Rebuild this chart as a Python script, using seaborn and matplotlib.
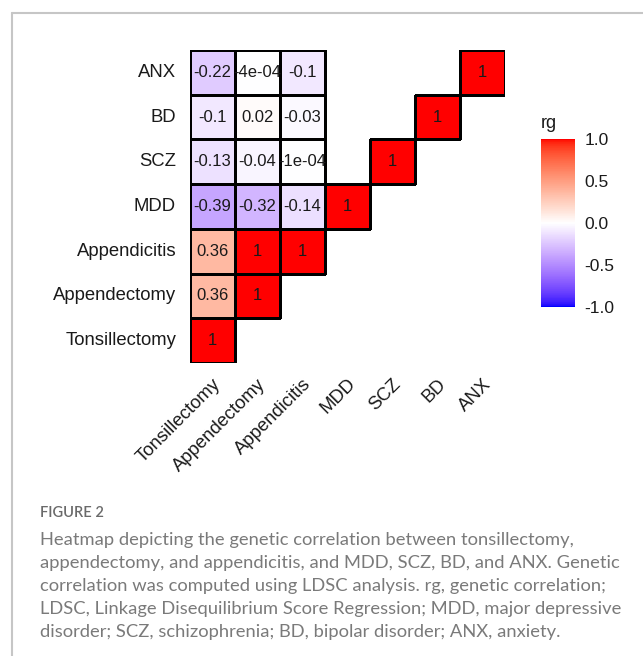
import numpy as np
import pandas as pd
import matplotlib
matplotlib.use("Agg")
import matplotlib.pyplot as plt
import matplotlib.colors as mcolors
from matplotlib.lines import Line2D
import seaborn as sns

# traits, top row first (as shown on the y axis) and left to right on the x axis
row_traits = ["ANX", "BD", "SCZ", "MDD", "Appendicitis", "Appendectomy", "Tonsillectomy"]
col_traits = ["Tonsillectomy", "Appendectomy", "Appendicitis", "MDD", "SCZ", "BD", "ANX"]

# genetic correlations (rg), NaN = not shown
rg_anx = [-0.22, -0.0004, -0.1, np.nan, np.nan, np.nan, 1]
rg_bd = [-0.1, 0.02, -0.03, np.nan, np.nan, 1, np.nan]
rg_scz = [-0.13, -0.04, -0.0001, np.nan, 1, np.nan, np.nan]
rg_mdd = [-0.39, -0.32, -0.14, 1, np.nan, np.nan, np.nan]
rg_appendicitis = [0.36, 1, 1, np.nan, np.nan, np.nan, np.nan]
rg_appendectomy = [0.36, 1, np.nan, np.nan, np.nan, np.nan, np.nan]
rg_tonsillectomy = [1, np.nan, np.nan, np.nan, np.nan, np.nan, np.nan]

cbar_ticks = [-1.0, -0.5, 0.0, 0.5, 1.0]

caption_title = "FIGURE 2"
caption_lines = [
    "Heatmap depicting the genetic correlation between tonsillectomy,",
    "appendectomy, and appendicitis, and MDD, SCZ, BD, and ANX. Genetic",
    "correlation was computed using LDSC analysis. rg, genetic correlation;",
    "LDSC, Linkage Disequilibrium Score Regression; MDD, major depressive",
    "disorder; SCZ, schizophrenia; BD, bipolar disorder; ANX, anxiety.",
]

rg = pd.DataFrame(
    [rg_anx, rg_bd, rg_scz, rg_mdd, rg_appendicitis, rg_appendectomy, rg_tonsillectomy],
    index=row_traits, columns=col_traits,
)


def fmt_rg(v):
    if np.isnan(v):
        return ""
    if v != 0 and abs(v) < 0.001:
        return f"{v:.0e}"
    return f"{v:g}"


labels = rg.map(fmt_rg)


# ggplot-like diverging gradient (blue - white - red) interpolated in Lab space
_M = np.array([[0.4124, 0.3576, 0.1805], [0.2126, 0.7152, 0.0722], [0.0193, 0.1192, 0.9505]])
_WHITE = np.array([0.95047, 1.0, 1.08883])


def to_lab(c):
    c = np.array(mcolors.to_rgb(c))
    lin = np.where(c <= 0.04045, c / 12.92, ((c + 0.055) / 1.055) ** 2.4)
    xyz = _M @ lin / _WHITE
    f = np.where(xyz > 0.008856, np.cbrt(xyz), 7.787 * xyz + 16 / 116)
    return np.array([116 * f[1] - 16, 500 * (f[0] - f[1]), 200 * (f[1] - f[2])])


def from_lab(lab):
    fy = (lab[0] + 16) / 116
    f = np.array([fy + lab[1] / 500, fy, fy - lab[2] / 200])
    xyz = np.where(f ** 3 > 0.008856, f ** 3, (f - 16 / 116) / 7.787) * _WHITE
    lin = np.linalg.solve(_M, xyz)
    lin = np.clip(lin, 0, 1)
    c = np.where(lin <= 0.0031308, 12.92 * lin, 1.055 * lin ** (1 / 2.4) - 0.055)
    return np.clip(c, 0, 1)


lab_lo, lab_mid, lab_hi = to_lab("blue"), to_lab("white"), to_lab("red")
ramp = []
for v in np.linspace(-1, 1, 256):
    if v < 0:
        ramp.append(from_lab(lab_lo + (v + 1) * (lab_mid - lab_lo)))
    else:
        ramp.append(from_lab(lab_mid + v * (lab_hi - lab_mid)))
cmap = mcolors.ListedColormap(ramp)

sns.set_style("white")
plt.rcParams["font.family"] = ["Liberation Sans", "DejaVu Sans"]

fig = plt.figure(figsize=(6.43, 6.56), dpi=100)
ax = fig.add_axes([190 / 643, 1 - 363 / 656, 315 / 643, 313 / 656])
cax = fig.add_axes([541 / 643, 1 - 307 / 656, 34 / 643, 168 / 656])

sns.heatmap(
    rg, ax=ax, cbar_ax=cax, cmap=cmap, vmin=-1, vmax=1,
    mask=rg.isna(), annot=labels, fmt="",
    annot_kws={"fontsize": 12, "color": "#1a1a1a"},
    linewidths=0.9, linecolor="black",
    cbar_kws={"ticks": cbar_ticks},
)

# only the shown cells get a black border
mesh = ax.collections[0]
mesh.set_edgecolors([(0, 0, 0, 0) if m else (0, 0, 0, 1) for m in rg.isna().values.ravel()])

ax.tick_params(axis="both", length=0, labelsize=13.3, labelcolor="#1a1a1a")
ax.tick_params(axis="y", pad=10)
ax.tick_params(axis="x", pad=9)
ax.set_yticklabels(row_traits, rotation=0)
ax.set_xticklabels(col_traits, rotation=45, ha="right", rotation_mode="anchor")
ax.set_xlabel("")
ax.set_ylabel("")

cbar = mesh.colorbar
cbar.outline.set_visible(False)
cbar.ax.set_yticklabels([f"{t:.1f}" for t in cbar_ticks])
cbar.ax.tick_params(left=True, right=True, direction="in", color="white",
                    length=4, width=1, labelsize=12.5, labelcolor="#1a1a1a", pad=7)
cbar.ax.set_title("rg", loc="left", fontsize=13, color="#1a1a1a", pad=8)

# caption
fig.text(40 / 643, 1 - 513 / 656, caption_title, fontsize=10.5, color="#6a6a6a",
         fontweight="semibold", family="Lato", va="center")
for i, line in enumerate(caption_lines):
    fig.text(40 / 643, 1 - (540 + 23.1 * i) / 656, line, fontsize=13.2,
             color="#7a7a7a", family="Lato", va="center")

# page frame
frame = "#c6c6c6"
fig.add_artist(Line2D([12 / 643, 1], [1 - 13 / 656, 1 - 13 / 656], color=frame, lw=1.5))
fig.add_artist(Line2D([12 / 643, 12 / 643], [0, 1 - 13 / 656], color=frame, lw=1.5))

fig.savefig("out.png", dpi=100)
